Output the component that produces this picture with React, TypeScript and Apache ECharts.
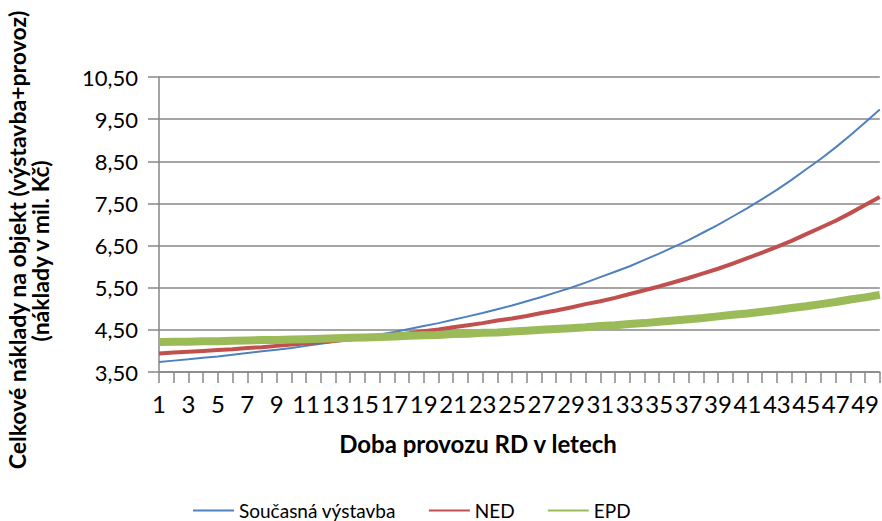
import React, { useEffect, useRef } from "react";
import * as echarts from "echarts";

const categories = [
  "1","2","3","4","5","6","7","8","9","10",
  "11","12","13","14","15","16","17","18","19","20",
  "21","22","23","24","25","26","27","28","29","30",
  "31","32","33","34","35","36","37","38","39","40",
  "41","42","43","44","45","46","47","48","49","50",
];

const soucasna = [
  3.74, 3.77, 3.80, 3.84, 3.87, 3.91, 3.95, 3.99, 4.03, 4.07,
  4.12, 4.17, 4.22, 4.28, 4.33, 4.39, 4.45, 4.52, 4.59, 4.66,
  4.74, 4.82, 4.90, 4.99, 5.08, 5.18, 5.28, 5.39, 5.50, 5.62,
  5.75, 5.88, 6.01, 6.16, 6.31, 6.47, 6.63, 6.81, 6.99, 7.19,
  7.39, 7.60, 7.82, 8.06, 8.31, 8.56, 8.83, 9.12, 9.42, 9.73,
];

const ned = [
  3.94, 3.96, 3.98, 4.00, 4.02, 4.04, 4.07, 4.09, 4.12, 4.15,
  4.18, 4.21, 4.24, 4.27, 4.31, 4.34, 4.38, 4.42, 4.47, 4.51,
  4.56, 4.61, 4.66, 4.72, 4.77, 4.83, 4.90, 4.96, 5.03, 5.11,
  5.18, 5.26, 5.35, 5.44, 5.53, 5.63, 5.73, 5.84, 5.95, 6.07,
  6.20, 6.33, 6.47, 6.61, 6.77, 6.93, 7.09, 7.27, 7.46, 7.65,
];

const epd = [
  4.21, 4.22, 4.22, 4.23, 4.23, 4.24, 4.25, 4.26, 4.26, 4.27,
  4.28, 4.29, 4.30, 4.31, 4.32, 4.33, 4.34, 4.36, 4.37, 4.38,
  4.40, 4.41, 4.43, 4.44, 4.46, 4.48, 4.50, 4.52, 4.54, 4.56,
  4.59, 4.61, 4.64, 4.66, 4.69, 4.72, 4.75, 4.78, 4.82, 4.86,
  4.89, 4.93, 4.97, 5.02, 5.06, 5.11, 5.16, 5.22, 5.27, 5.33,
];

const seriesNames = ["Současná výstavba", "NED", "EPD"];
const seriesColors = ["#4F81BD", "#C0504D", "#9BBB59"];

const yAxisTitle1 = "Celkové náklady na objekt (výstavba+provoz)";
const yAxisTitle2 = "(náklady v mil. Kč)";
const xAxisTitle = "Doba provozu RD v letech";

const FONT = "Lato, 'Open Sans', sans-serif";
const GRID_COLOR = "#878787";

export default function App() {
  const ref = useRef<HTMLDivElement>(null);

  useEffect(() => {
    if (!ref.current) return;
    const chart = echarts.init(ref.current, null, { renderer: "svg" });
    chart.setOption({
      animation: false,
      backgroundColor: "#ffffff",
      grid: { left: 159, right: 2, top: 77, bottom: 149, containLabel: false },
      legend: {
        data: seriesNames,
        left: 187,
        top: 496,
        itemWidth: 41,
        itemHeight: 14,
        itemGap: 32,
        itemStyle: { opacity: 0 },
        textStyle: { fontFamily: FONT, fontSize: 19, color: "#000" },
      },
      xAxis: {
        type: "category",
        data: categories,
        boundaryGap: false,
        axisLine: { lineStyle: { color: GRID_COLOR, width: 1.5 } },
        axisTick: {
          show: true,
          interval: 0,
          length: 11,
          lineStyle: { color: GRID_COLOR, width: 1.5 },
        },
        axisLabel: {
          interval: 1,
          margin: 19,
          fontFamily: FONT,
          fontSize: 24,
          color: "#000",
        },
        splitLine: { show: false },
      },
      yAxis: {
        type: "value",
        min: 3.5,
        max: 10.5,
        interval: 1,
        axisLine: { show: true, lineStyle: { color: GRID_COLOR, width: 1.5 } },
        axisTick: { show: true, length: 11, lineStyle: { color: GRID_COLOR, width: 1.5 } },
        axisLabel: {
          margin: 21,
          fontFamily: FONT,
          fontSize: 22,
          color: "#000",
          formatter: (v: number) => v.toFixed(2).replace(".", ","),
        },
        splitLine: { show: true, lineStyle: { color: GRID_COLOR, width: 1.5 } },
      },
      graphic: [
        {
          type: "text",
          x: 17,
          y: 240,
          rotation: Math.PI / 2,
          style: {
            text: yAxisTitle1,
            fill: "#000",
            fontFamily: FONT,
            fontSize: 23,
            fontWeight: "bold",
            align: "center",
            verticalAlign: "middle",
          },
        },
        {
          type: "text",
          x: 40,
          y: 251,
          rotation: Math.PI / 2,
          style: {
            text: yAxisTitle2,
            fill: "#000",
            fontFamily: FONT,
            fontSize: 23,
            fontWeight: "bold",
            align: "center",
            verticalAlign: "middle",
          },
        },
        {
          type: "text",
          x: 478,
          y: 443,
          style: {
            text: xAxisTitle,
            fill: "#000",
            fontFamily: FONT,
            fontSize: 24,
            fontWeight: "bold",
            align: "center",
            verticalAlign: "middle",
          },
        },
      ],
      series: [
        {
          name: seriesNames[0],
          type: "line",
          data: soucasna,
          symbol: "none",
          color: seriesColors[0],
          lineStyle: { width: 2, color: seriesColors[0] },
        },
        {
          name: seriesNames[1],
          type: "line",
          data: ned,
          symbol: "none",
          color: seriesColors[1],
          lineStyle: { width: 4, color: seriesColors[1] },
        },
        {
          name: seriesNames[2],
          type: "line",
          data: epd,
          symbol: "none",
          color: seriesColors[2],
          lineStyle: { width: 8, color: seriesColors[2] },
        },
      ],
    });
    return () => chart.dispose();
  }, []);

  return (
    <div
      ref={ref}
      style={{ position: "fixed", left: 0, top: 0, width: 882, height: 521, background: "#fff" }}
    />
  );
}
